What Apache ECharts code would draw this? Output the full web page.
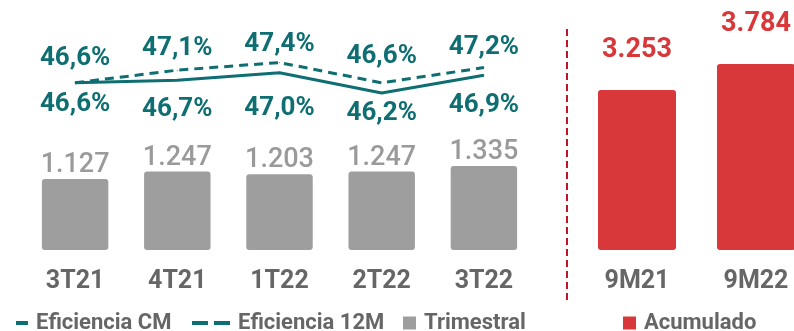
<!DOCTYPE html>
<html><head><meta charset="utf-8">
<script src="https://cdn.jsdelivr.net/npm/echarts@6/dist/echarts.min.js"></script>
<style>html,body{margin:0;padding:0;background:#fff}#c{width:794px;height:331px}</style>
</head><body><div id="c"></div>
<script>
// ---- data ----
const quarters = ['3T21', '4T21', '1T22', '2T22', '3T22'];
const trimestral = [1127, 1247, 1203, 1247, 1335];
const eficienciaCM = [46.6, 46.7, 47.0, 46.2, 46.9];
const eficiencia12M = [46.6, 47.1, 47.4, 46.6, 47.2];
const periods = ['9M21', '9M22'];
const acumulado = [3253, 3784];

// ---- style ----
const TEAL = '#0e6e71', GREY = '#9e9e9e', RED = '#d9383a', TXT = '#666666';
const FONT = 'Roboto';
const cmLabelNudge = [0, 8, 14, -1, 9];
const m12LabelNudge = [-3, 0, 3, -5, 1];

const thousands = v => String(v).replace(/\B(?=(\d{3})+(?!\d))/g, '.');
const pct = v => v.toFixed(1).replace('.', ',') + '%';

const chart = echarts.init(document.getElementById('c'), null, {renderer: 'canvas'});
const lineLabel = {
  show: true, fontFamily: FONT, fontWeight: 'bold', fontSize: 26, color: TEAL,
  textBorderColor: '#ffffff', textBorderWidth: 3,
  formatter: p => pct(p.value)
};
const legendText = {fontFamily: FONT, fontWeight: 'bold', fontSize: 22, color: TXT, padding: [0, 0, 0, 3]};
chart.setOption({
  animation: false,
  textStyle: {fontFamily: FONT},
  grid: [
    {left: 24, width: 511, top: 22, height: 228},
    {left: 637, right: 38, top: 22, height: 228}
  ],
  xAxis: [
    {type: 'category', gridIndex: 0, data: quarters,
     axisLine: {show: false}, axisTick: {show: false},
     axisLabel: {fontFamily: FONT, fontWeight: 'bold', fontSize: 25, color: TXT, margin: 19}},
    {type: 'category', gridIndex: 1, data: periods, boundaryGap: false,
     axisLine: {show: false}, axisTick: {show: false},
     axisLabel: {fontFamily: FONT, fontWeight: 'bold', fontSize: 25, color: TXT, margin: 19}}
  ],
  yAxis: [
    {type: 'value', gridIndex: 0, min: 0, max: 3619, show: false, splitLine: {show: false}},
    {type: 'value', gridIndex: 0, min: 40, max: 49, show: false, splitLine: {show: false}},
    {type: 'value', gridIndex: 1, min: 0, max: 4637, show: false, splitLine: {show: false}}
  ],
  legend: [
    {data: ['Eficiencia CM'], left: 11, top: 307, icon: 'rect', itemWidth: 12, itemHeight: 4,
     selectedMode: false, textStyle: legendText},
    {data: ['Eficiencia 12M'], left: 187, top: 307, icon: 'path://M0,0H16V4H0Z M22,0H38V4H22Z',
     itemWidth: 38, itemHeight: 4, selectedMode: false, textStyle: legendText},
    {data: ['Trimestral'], left: 398, top: 307, icon: 'rect', itemWidth: 13, itemHeight: 13,
     selectedMode: false, textStyle: legendText},
    {data: ['Acumulado'], left: 618, top: 307, icon: 'rect', itemWidth: 13, itemHeight: 13,
     selectedMode: false, textStyle: legendText}
  ],
  graphic: [
    {type: 'line', shape: {x1: 567, y1: 29, x2: 567, y2: 303},
     style: {stroke: '#c0142b', lineWidth: 2, lineDash: [7, 4]}}
  ],
  series: [
    {name: 'Trimestral', type: 'bar', xAxisIndex: 0, yAxisIndex: 0, data: trimestral,
     barCategoryGap: '35%', itemStyle: {color: GREY, borderRadius: 3},
     label: {show: true, position: 'top', distance: 0, fontFamily: FONT, fontWeight: 500, fontSize: 27, color: '#9a9a9a',
       textBorderColor: '#ffffff', textBorderWidth: 3, formatter: p => thousands(p.value)}},
    {name: 'Eficiencia CM', type: 'line', xAxisIndex: 0, yAxisIndex: 1,
     data: eficienciaCM.map((v, i) => ({value: v, label: {offset: [0, cmLabelNudge[i]]}})),
     symbol: 'circle', symbolSize: 1, showSymbol: true, itemStyle: {color: TEAL}, lineStyle: {color: TEAL, width: 3},
     label: Object.assign({position: 'bottom', distance: 8}, lineLabel)},
    {name: 'Eficiencia 12M', type: 'line', xAxisIndex: 0, yAxisIndex: 1,
     data: eficiencia12M.map((v, i) => ({value: v, label: {offset: [0, m12LabelNudge[i]]}})),
     symbol: 'circle', symbolSize: 1, showSymbol: true, itemStyle: {color: TEAL}, lineStyle: {color: TEAL, width: 3, type: [9, 6]},
     label: Object.assign({position: 'top', distance: 8}, lineLabel)},
    {name: 'Acumulado', type: 'bar', xAxisIndex: 1, yAxisIndex: 2, data: acumulado,
     barWidth: 78, itemStyle: {color: RED, borderRadius: 3},
     label: {show: true, position: 'top', distance: 26, fontFamily: FONT, fontWeight: 'bold', fontSize: 27, color: RED,
       textBorderColor: '#ffffff', textBorderWidth: 3, formatter: p => thousands(p.value)}}
  ]
});
</script></body></html>
